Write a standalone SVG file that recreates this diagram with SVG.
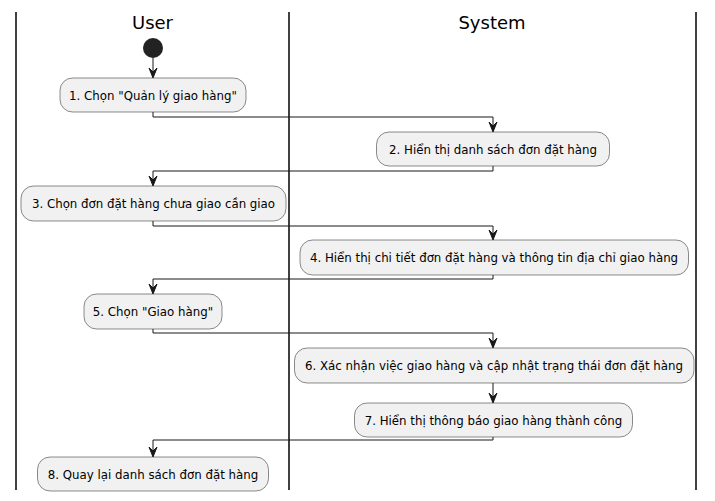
<svg xmlns="http://www.w3.org/2000/svg" width="715" height="501" viewBox="0 0 715 501">
<defs>
<style>
.lane{stroke:#000;stroke-width:1.5;fill:none}
.title{font-family:"DejaVu Sans",sans-serif;font-size:18px;fill:#000;text-anchor:middle}
.box{fill:#F1F1F1;stroke:#181818;stroke-width:0.5}
.lbl{font-family:"DejaVu Sans",sans-serif;font-size:11.8px;fill:#000;text-anchor:middle}
.edge{stroke:#181818;stroke-width:1;fill:none}
.head{fill:#181818;stroke:#181818;stroke-width:1}
</style>
</defs>
<rect width="715" height="501" fill="#fff"/>
<g id="lanes">
<line class="lane" x1="16" y1="12" x2="16" y2="490"/>
<line class="lane" x1="289" y1="12" x2="289" y2="490"/>
<line class="lane" x1="696" y1="12" x2="696" y2="490"/>
<text class="title" x="152.5" y="29">User</text>
<text class="title" x="492" y="29">System</text>
</g>
<g id="start"><circle cx="153" cy="48" r="10" fill="#222222"/></g>
<g id="connectors">
<line class="edge" x1="153" y1="58" x2="153" y2="77"/>
<polygon class="head" points="149,68 153,78 157,68 153,72"/>
<polyline class="edge" points="153,112 153,117 493,117 493,131"/>
<polygon class="head" points="489,122 493,132 497,122 493,126"/>
<polyline class="edge" points="493,166 493,171 153,171 153,185"/>
<polygon class="head" points="149,176 153,186 157,176 153,180"/>
<polyline class="edge" points="153,221 153,226 493,226 493,239"/>
<polygon class="head" points="489,230 493,240 497,230 493,234"/>
<polyline class="edge" points="493,275 493,279 153,279 153,293"/>
<polygon class="head" points="149,284 153,294 157,284 153,288"/>
<polyline class="edge" points="153,329 153,333 493,333 493,347"/>
<polygon class="head" points="489,338 493,348 497,338 493,342"/>
<line class="edge" x1="493" y1="383" x2="493" y2="402"/>
<polygon class="head" points="489,393 493,403 497,393 493,397"/>
<polyline class="edge" points="493,437 493,440 153,440 153,456"/>
<polygon class="head" points="149,447 153,457 157,447 153,451"/>
</g>
<g id="n1"><rect class="box" x="60" y="78" width="186" height="34" rx="12.5"/><text class="lbl" x="153" y="99.5">1. Chọn "Quản lý giao hàng"</text></g>
<g id="n2"><rect class="box" x="376.5" y="132" width="233" height="34" rx="12.5"/><text class="lbl" x="493" y="153.5">2. Hiển thị danh sách đơn đặt hàng</text></g>
<g id="n3"><rect class="box" x="21" y="186" width="265" height="35" rx="12.5"/><text class="lbl" x="153.5" y="208">3. Chọn đơn đặt hàng chưa giao cần giao</text></g>
<g id="n4"><rect class="box" x="300" y="240" width="388.5" height="35" rx="12.5"/><text class="lbl" x="494" y="262">4. Hiển thị chi tiết đơn đặt hàng và thông tin địa chỉ giao hàng</text></g>
<g id="n5"><rect class="box" x="84" y="294" width="138" height="35" rx="12.5"/><text class="lbl" x="153" y="316">5. Chọn "Giao hàng"</text></g>
<g id="n6"><rect class="box" x="294.5" y="348" width="399.5" height="35" rx="12.5"/><text class="lbl" x="494" y="370">6. Xác nhận việc giao hàng và cập nhật trạng thái đơn đặt hàng</text></g>
<g id="n7"><rect class="box" x="354.5" y="403" width="278" height="34" rx="12.5"/><text class="lbl" x="493.5" y="424.5">7. Hiển thị thông báo giao hàng thành công</text></g>
<g id="n8"><rect class="box" x="37.5" y="457" width="231" height="34" rx="12.5"/><text class="lbl" x="153" y="478.5">8. Quay lại danh sách đơn đặt hàng</text></g>
</svg>
